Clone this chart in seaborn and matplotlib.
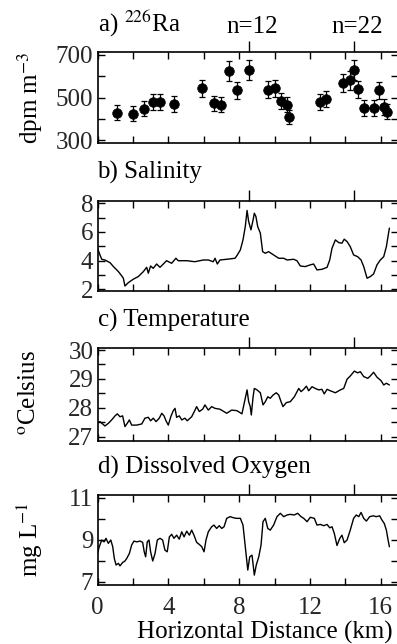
import numpy as np
import pandas as pd
import matplotlib
matplotlib.use("Agg")
import matplotlib.pyplot as plt
import seaborn as sns
from matplotlib.ticker import MultipleLocator, FixedLocator

# ---------------- data ----------------
ra_km = [1.12, 2.02, 2.62, 3.11, 3.55, 4.30, 5.90, 6.60, 7.00, 7.43, 7.88, 8.58,
         9.65, 10.00, 10.37, 10.72, 10.84, 12.55, 12.93, 13.85, 14.28, 14.50,
         14.71, 15.07, 15.64, 15.92, 16.18, 16.37]
ra_val = [429, 423, 447, 478, 478, 469, 544, 472, 466, 624, 533, 630,
          537, 544, 485, 466, 410, 478, 493, 568, 580, 630,
          539, 450, 450, 533, 456, 433]
ra_err = [35, 35, 35, 38, 38, 36, 40, 36, 36, 48, 40, 48,
          40, 40, 37, 36, 33, 37, 38, 44, 44, 48,
          40, 36, 36, 40, 36, 35]

sal_km = [0.00, 0.14, 0.24, 0.42, 0.71, 0.90, 1.18, 1.37, 1.46, 1.55, 1.74, 2.02,
          2.30, 2.59, 2.78, 2.87, 3.00, 3.15, 3.34, 3.53, 3.72, 3.90, 4.19, 4.43,
          4.56, 5.04, 5.50, 5.98, 6.26, 6.54, 6.64, 6.77, 6.92, 7.30, 7.77, 7.90,
          8.07, 8.22, 8.35, 8.45, 8.54, 8.67, 8.79, 8.86, 8.95, 9.05, 9.20, 9.33,
          9.48, 9.67, 9.95, 10.24, 10.52, 10.71, 11.08, 11.27, 11.46, 11.74, 12.02,
          12.21, 12.40, 12.68, 12.97, 13.12, 13.25, 13.44, 13.63, 13.81, 13.94,
          14.10, 14.28, 14.47, 14.70, 14.89, 15.04, 15.23, 15.41, 15.60, 15.79,
          15.98, 16.17, 16.32, 16.49]
sal_val = [4.86, 4.39, 4.09, 4.04, 3.85, 3.58, 3.23, 2.93, 2.77, 2.23, 2.46, 2.70,
           2.88, 3.23, 3.53, 3.12, 3.62, 3.46, 3.76, 3.53, 3.76, 3.99, 3.81, 4.16,
           3.99, 3.99, 3.92, 4.04, 4.04, 3.92, 4.16, 3.76, 4.04, 4.09, 4.16, 4.39,
           4.74, 5.44, 6.37, 7.49, 6.72, 6.14, 6.83, 7.30, 7.07, 6.37, 5.91, 4.62,
           4.51, 4.62, 4.39, 4.16, 4.16, 4.04, 4.09, 3.99, 3.62, 3.58, 3.70,
           3.76, 3.35, 3.39, 3.53, 4.04, 4.86, 5.44, 5.25, 5.21, 5.49,
           5.32, 4.97, 4.39, 4.27, 4.04, 3.58, 2.77, 2.88, 3.07, 3.70,
           4.04, 4.27, 4.97, 6.26]

tmp_km = [0.00, 0.14, 0.29, 0.42, 0.61, 0.80, 0.99, 1.12, 1.27, 1.42, 1.55, 1.68,
          1.80, 1.93, 2.21, 2.50, 2.68, 2.87, 3.00, 3.15, 3.31, 3.49, 3.63, 3.76,
          3.87, 4.00, 4.14, 4.28, 4.38, 4.47, 4.62, 4.76, 4.94, 5.07, 5.32, 5.51,
          5.60, 5.75, 5.94, 6.07, 6.26, 6.45, 6.64, 6.92, 7.30, 7.58, 7.88,
          8.16, 8.29, 8.45, 8.54, 8.63, 8.69, 8.79, 8.86, 9.01, 9.20, 9.35, 9.48,
          9.62, 9.76, 9.92, 10.10, 10.24, 10.37, 10.48, 10.67, 10.89, 11.12, 11.37,
          11.50, 11.65, 11.80, 11.93, 12.12, 12.30, 12.50, 12.68, 12.81, 12.97,
          13.15, 13.44, 13.72, 13.91, 14.10, 14.28, 14.51, 14.70, 14.85, 15.04,
          15.27, 15.41, 15.60, 15.79, 16.02, 16.17, 16.32, 16.49]
tmp_val = [27.48, 27.52, 27.44, 27.37, 27.46, 27.58, 27.72, 27.79, 27.69, 27.72, 27.35, 27.46,
           27.58, 27.40, 27.40, 27.44, 27.64, 27.67, 27.55, 27.64, 27.52, 27.64, 27.81, 27.72,
           27.55, 27.40, 27.69, 27.90, 27.98, 27.67, 27.72, 27.58, 27.64, 27.55, 27.69, 27.92,
           28.04, 27.87, 27.95, 28.10, 27.92, 28.04, 27.98, 27.95, 27.81, 27.92, 27.90,
           27.79, 28.16, 28.62, 28.21, 28.04, 27.75, 28.38, 28.67, 28.62, 28.52, 28.10, 28.21,
           28.38, 28.33, 28.44, 28.52, 28.44, 28.21, 28.04, 28.18, 28.21, 28.38, 28.67,
           28.56, 28.64, 28.75, 28.59, 28.73, 28.67, 28.62, 28.64, 28.48, 28.64,
           28.59, 28.52, 28.62, 28.67, 28.99, 29.10, 29.27, 29.21, 29.25, 29.08,
           29.02, 29.10, 29.23, 29.06, 28.94, 28.79, 28.85, 28.79]

do_km = [0.00, 0.10, 0.24, 0.37, 0.48, 0.61, 0.75, 0.86, 0.95, 1.05, 1.18, 1.27,
         1.42, 1.55, 1.65, 1.80, 1.93, 2.06, 2.21, 2.40, 2.55, 2.64, 2.72, 2.81,
         2.91, 3.00, 3.12, 3.25, 3.38, 3.53, 3.68, 3.81, 3.94, 4.06, 4.19, 4.32,
         4.47, 4.62, 4.76, 4.89, 5.04, 5.19, 5.32, 5.45, 5.60, 5.75, 5.89, 6.02,
         6.13, 6.26, 6.45, 6.58, 6.73, 6.88, 7.02, 7.15, 7.30, 7.49, 7.67, 7.86,
         8.07, 8.22, 8.35, 8.49, 8.60, 8.73, 8.86, 8.97, 9.11, 9.24, 9.35, 9.48,
         9.62, 9.76, 9.95, 10.14, 10.33, 10.52, 10.71, 10.89, 11.12, 11.31, 11.50,
         11.65, 11.84, 12.02, 12.25, 12.40, 12.59, 12.78, 12.97, 13.12, 13.25,
         13.38, 13.53, 13.68, 13.81, 13.94, 14.10, 14.28, 14.47, 14.62, 14.76,
         14.89, 15.04, 15.19, 15.38, 15.57, 15.75, 15.94, 16.07, 16.20, 16.32,
         16.40, 16.49]
do_val = [8.35, 8.67, 8.99, 8.90, 9.07, 8.83, 8.99, 8.67, 8.11, 7.80, 7.88, 7.76,
          7.92, 7.99, 8.11, 8.35, 8.75, 8.94, 8.90, 8.94, 8.88, 8.43, 8.19, 8.90,
          8.99, 8.43, 7.99, 8.35, 8.99, 9.07, 8.99, 8.51, 8.43, 9.14, 9.26, 9.07,
          9.22, 9.03, 9.38, 9.14, 9.41, 9.22, 9.46, 9.22, 8.88, 8.78, 8.67, 8.43,
          8.99, 9.38, 9.62, 9.70, 9.54, 9.67, 9.54, 9.62, 10.02, 10.10, 10.05, 10.02,
          10.02, 9.70, 8.67, 7.56, 8.19, 8.27, 7.32, 7.80, 8.19, 8.75, 9.86, 10.02,
          9.54, 9.46, 9.70, 10.10, 10.26, 10.10, 10.18, 10.21, 10.18, 10.26, 10.10,
          10.02, 9.86, 10.07, 10.02, 9.70, 9.73, 9.67, 9.73, 9.57, 9.62,
          9.30, 8.73, 9.05, 9.22, 8.86, 8.99, 9.46, 10.02, 10.18, 10.10,
          10.30, 10.02, 9.89, 10.10, 10.14, 10.10, 10.14, 9.94, 9.78, 9.46,
          9.07, 8.67]

stations_km = [8.58, 14.50]
stations_lbl = ["n=12", "n=22"]

ra_ticks = [300, 500, 700]
sal_ticks = [2, 4, 6, 8]
tmp_ticks = [27, 28, 29, 30]
do_ticks = [7, 9, 11]

# ---------------- style ----------------
sns.set_theme(style="ticks")
plt.rcParams["font.family"] = ["Liberation Serif", "DejaVu Serif"]
plt.rcParams["mathtext.fontset"] = "stix"
FS = 18
W, H = 397, 644
fig = plt.figure(figsize=(W / 100, H / 100), dpi=100)

left = 97.5 / W
width = (398.4 - 97.5) / W
panels = [(51.7, 143.3), (201.0, 290.7), (348.3, 440.7), (495.0, 585.0)]
axes = []
for top, bot in panels:
    axes.append(fig.add_axes([left, 1 - bot / H, width, (bot - top) / H]))

def style(ax, ylim, yticks, ymin):
    ax.set_xlim(0, 17)
    ax.set_ylim(*ylim)
    ax.xaxis.set_major_locator(MultipleLocator(4))
    ax.xaxis.set_minor_locator(MultipleLocator(2))
    ax.yaxis.set_major_locator(FixedLocator(yticks))
    ax.yaxis.set_minor_locator(MultipleLocator(ymin))
    for w in ("major", "minor"):
        ax.tick_params(which=w, direction="in", length=5, width=1.0,
                       top=True, right=True, bottom=True, left=True,
                       labelsize=FS, color="black", pad=3)
    ax.tick_params(axis="x", which="major", pad=9)
    for s in ax.spines.values():
        s.set_linewidth(1.2)
        s.set_color("black")
    ax.set_xlabel("")
    ax.set_ylabel("")
    sec = ax.secondary_xaxis("top")
    sec.set_xticks(stations_km)
    sec.tick_params(direction="out", length=8, width=1.0, labeltop=False, color="black")
    sec.spines["top"].set_visible(False)

ax_a, ax_b, ax_c, ax_d = axes

# a) Ra
ax_a.errorbar(ra_km, ra_val, yerr=ra_err, fmt="none", ecolor="black",
              elinewidth=0.9, capsize=2, capthick=0.9, zorder=2)
sns.scatterplot(x=ra_km, y=ra_val, ax=ax_a, color="black", s=48,
                edgecolor="black", linewidth=0.5, zorder=3, legend=False)
style(ax_a, (285, 715), ra_ticks, 100)

# b) Salinity
sns.lineplot(x=sal_km, y=sal_val, ax=ax_b, color="black", lw=1.0,
             sort=False, estimator=None)
style(ax_b, (1.9, 8.15), sal_ticks, 1)

# c) Temperature
sns.lineplot(x=tmp_km, y=tmp_val, ax=ax_c, color="black", lw=1.0,
             sort=False, estimator=None)
style(ax_c, (26.86, 30.06), tmp_ticks, 0.5)

# d) Dissolved oxygen
sns.lineplot(x=do_km, y=do_val, ax=ax_d, color="black", lw=1.0,
             sort=False, estimator=None)
style(ax_d, (6.85, 11.13), do_ticks, 1)

for ax in (ax_a, ax_b, ax_c):
    ax.tick_params(labelbottom=False)

# titles
def ftext(xp, yp, s, **kw):
    fig.text(xp / W, 1 - yp / H, s, fontsize=FS, color="black", **kw)

ftext(97.5, 32, r"a) $^{226}$Ra", ha="left", va="baseline")
ftext(97.5, 179, "b) Salinity", ha="left", va="baseline")
ftext(97.5, 327, "c) Temperature", ha="left", va="baseline")
ftext(97.5, 474, "d) Dissolved Oxygen", ha="left", va="baseline")
for km, lbl in zip(stations_km, stations_lbl):
    ax_a.text(km + 0.15, 1 + 19 / 91.6, lbl, transform=ax_a.get_xaxis_transform(),
              ha="center", va="baseline", fontsize=FS, color="black")

ftext(30, 98, r"dpm m$^{-3}$", ha="center", va="center", rotation=90)
ftext(30, 393, r"$^{\mathrm{o}}$Celsius", ha="center", va="center", rotation=90)
ftext(30, 540, r"mg L$^{-1}$", ha="center", va="center", rotation=90)
ftext(265, 632, "Horizontal Distance (km)", ha="center", va="center")

fig.savefig("out.png", dpi=100, facecolor="white")
